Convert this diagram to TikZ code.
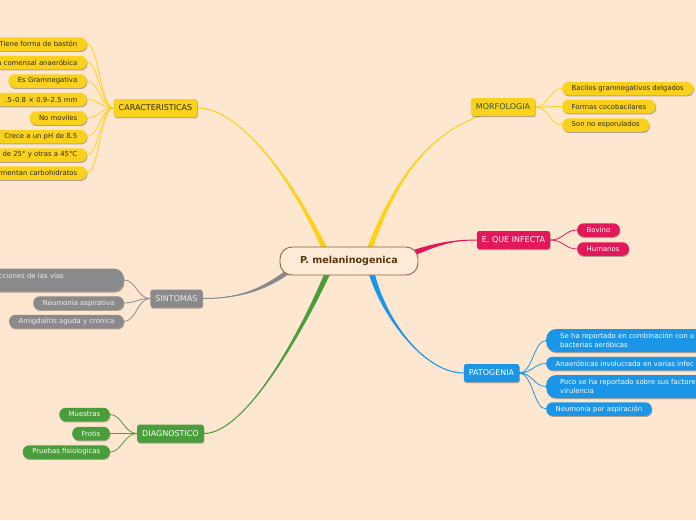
\documentclass[tikz,border=0pt]{standalone}
\usepackage{fontspec}
\setmainfont{DejaVu Sans}
\usetikzlibrary{calc,shadows}
\definecolor{bgc}{HTML}{FEE7D1}
\definecolor{cfill}{HTML}{FEEAD6}
\definecolor{cdraw}{HTML}{8A6440}
\definecolor{ctext}{HTML}{5A3512}
\definecolor{yel}{HTML}{FAD21E}
\definecolor{yeltext}{HTML}{2E2A1A}
\definecolor{mortext}{HTML}{2A5A30}
\definecolor{pink}{HTML}{E2185B}
\definecolor{grayc}{HTML}{8A8A8D}
\definecolor{graytext}{HTML}{EDEDED}
\definecolor{bluec}{HTML}{1B95E6}
\definecolor{greenc}{HTML}{4A9D3B}
\pgfdeclarelayer{bglayer}
\pgfdeclarelayer{edges}
\pgfsetlayers{bglayer,edges,main}
\newcommand\mmbranch[7]{%
  \fill[#1] ($(#2)+(#6,#7)$) .. controls ($(#3)+(0.5*#6,0.5*#7)$) and (#4) .. (#5)
     .. controls (#4) and ($(#3)-(0.5*#6,0.5*#7)$) .. ($(#2)-(#6,#7)$) -- cycle;
  \draw[#1, line width=1pt] (#2) .. controls (#3) and (#4) .. (#5);
}
\tikzset{
  shad/.style={drop shadow={shadow xshift=0.6pt,shadow yshift=-1.2pt,opacity=0.3,fill=black}},
  hub/.style={draw=cdraw, line width=0.9pt, fill=cfill, rounded corners=12pt,
    minimum width=138pt, minimum height=28pt, text=ctext,
    font=\fontsize{9.6}{11}\selectfont\bfseries},
  topic/.style={shad, rounded corners=2.5pt, minimum height=18pt, inner xsep=5pt,
    inner ysep=0pt, font=\fontsize{8}{9}\selectfont},
  leaf/.style={shad, rounded corners=6.5pt, minimum height=13.5pt, inner xsep=9.5pt,
    inner ysep=0pt, font=\fontsize{6.9}{8.5}\selectfont},
  bigleaf/.style={shad, rounded corners=10pt, minimum height=23pt, inner xsep=14pt,
    inner ysep=0pt, align=left, font=\fontsize{6.9}{8.5}\selectfont},
  yleaf/.style={leaf, fill=yel, text=yeltext},
  pleaf/.style={leaf, fill=pink, text=white},
  gleaf/.style={leaf, fill=grayc, text=graytext},
  bleaf/.style={leaf, fill=bluec, text=white},
  vleaf/.style={leaf, fill=greenc, text=white},
  twig/.style={line width=0.8pt},
}
\begin{document}
\begin{tikzpicture}[x=1pt,y=-1pt]
\begin{pgfonlayer}{bglayer}
  \fill[bgc] (0,0) rectangle (696,520);
\end{pgfonlayer}
\useasboundingbox (0,0) rectangle (696,520);

% hub
\node[hub] (c) at (349,261) {P. melaninogenica};

% topics
\node[topic, fill=yel, text=yeltext] (car) at (155.5,108) {CARACTERISTICAS};
\node[topic, fill=yel, text=mortext] (mor) at (503,107) {MORFOLOGIA};
\node[topic, fill=pink, text=white] (inf) at (513.5,240) {E. QUE INFECTA};
\node[topic, fill=bluec, text=white] (pat) at (491.5,373) {PATOGENIA};
\node[topic, fill=grayc, text=graytext] (sin) at (176.5,298.5) {SINTOMAS};
\node[topic, fill=greenc, text=white] (dia) at (170.5,433.5) {DIAGNOSTICO};

% CARACTERISTICAS leaves
\node[yleaf, anchor=east] (c1) at (87,44) {Tiene forma de bastón};
\node[yleaf, anchor=east] (c2) at (87,62.5) {a comensal anaeróbica};
\node[yleaf, anchor=east] (c3) at (87,81) {Es Gramnegativa};
\node[yleaf, anchor=east] (c4) at (87,99.5) {.5–0.8 × 0.9–2.5 mm};
\node[yleaf, anchor=east] (c5) at (87,118) {No moviles};
\node[yleaf, anchor=east] (c6) at (87,136.5) {Crece a un pH de 8.5};
\node[yleaf, anchor=east] (c7) at (87,155) {de 25° y otras a 45°C};
\node[yleaf, anchor=east] (c8) at (87,173) {rmentan carbohidratos};

% MORFOLOGIA leaves
\node[yleaf, anchor=west] (m1) at (562,88.5) {Bacilos gramnegativos delgados};
\node[yleaf, anchor=west] (m2) at (562,106.5) {Formas cocobacilares};
\node[yleaf, anchor=west] (m3) at (562,125) {Son no esporulados};

% E. QUE INFECTA leaves
\node[pleaf, anchor=west] (i1) at (577,230) {Bovino};
\node[pleaf, anchor=west] (i2) at (577,249) {Humanos};

% PATOGENIA leaves
\node[bigleaf, fill=bluec, text=white, text width=200pt, anchor=west] (p1) at (546,340.5)
  {Se ha reportado en combinación con o\\bacterias aeróbicas};
\node[bleaf, text width=190pt, align=left, anchor=west] (p2) at (546,363.5)
  {Anaeróbicas involucrada en varias infec};
\node[bigleaf, fill=bluec, text=white, text width=200pt, anchor=west] (p3) at (546,386.5)
  {Poco se ha reportado sobre sus factore\\virulencia};
\node[bleaf, anchor=west] (p4) at (546,409) {Neumonía por aspiración};

% SINTOMAS leaves
\node[bigleaf, fill=grayc, text=graytext, inner xsep=9pt, text width=116pt, anchor=east] (s1) at (124,280)
  {cciones de las vías\\\mbox{}};
\node[gleaf, anchor=east] (s2) at (124,303) {Neumonía aspirativa};
\node[gleaf, anchor=east] (s3) at (124,321.5) {Amigdalitis aguda y cronica};

% DIAGNOSTICO leaves
\node[vleaf, anchor=east] (d1) at (110,414.5) {Muestras};
\node[vleaf, anchor=east] (d2) at (110,433.5) {Frotis};
\node[vleaf, anchor=east] (d3) at (110,452) {Pruebas fisiologicas};

\begin{pgfonlayer}{edges}
  \coordinate (aCar) at ($(c.north)+(-25,1)$);
  \coordinate (aMor) at ($(c.north)+(21,1)$);
  \coordinate (aInf) at ($(c.east)+(-5,-8)$);
  \coordinate (aSin) at ($(c.west)+(8,11)$);
  \coordinate (aDia) at ($(c.south)+(-22,-1)$);
  \coordinate (aPat) at ($(c.south)+(23,-1)$);
  \mmbranch{yel}{aCar}{300,195}{245,108}{car.east}{-3}{0}
  \mmbranch{yel}{aMor}{392,190}{430,107}{mor.east}{3}{0}
  \mmbranch{pink}{aInf}{440,243}{455,240}{inf.west}{0}{-3}
  \mmbranch{grayc}{aSin}{260,292}{235,298.5}{sin.east}{0}{-3}
  \mmbranch{greenc}{aDia}{300,335}{245,433.5}{dia.east}{-3}{0}
  \mmbranch{bluec}{aPat}{385,320}{425,373}{pat.west}{3}{0}

  \foreach \n in {c1,c2,c3,c4,c5,c6,c7,c8}
    \draw[twig, yel] (car.west) .. controls +(-13,0) and +(12,0) .. (\n.east);
  \foreach \n in {m1,m2,m3}
    \draw[twig, yel] (mor.east) .. controls +(13,0) and +(-12,0) .. (\n.west);
  \foreach \n in {i1,i2}
    \draw[twig, pink] (inf.east) .. controls +(13,0) and +(-12,0) .. (\n.west);
  \foreach \n in {p1,p2,p3,p4}
    \draw[twig, bluec] (pat.east) .. controls +(13,0) and +(-12,0) .. (\n.west);
  \foreach \n in {s1,s2,s3}
    \draw[twig, grayc] (sin.west) .. controls +(-13,0) and +(12,0) .. (\n.east);
  \foreach \n in {d1,d2,d3}
    \draw[twig, greenc] (dia.west) .. controls +(-13,0) and +(12,0) .. (\n.east);
\end{pgfonlayer}
\end{tikzpicture}
\end{document}
